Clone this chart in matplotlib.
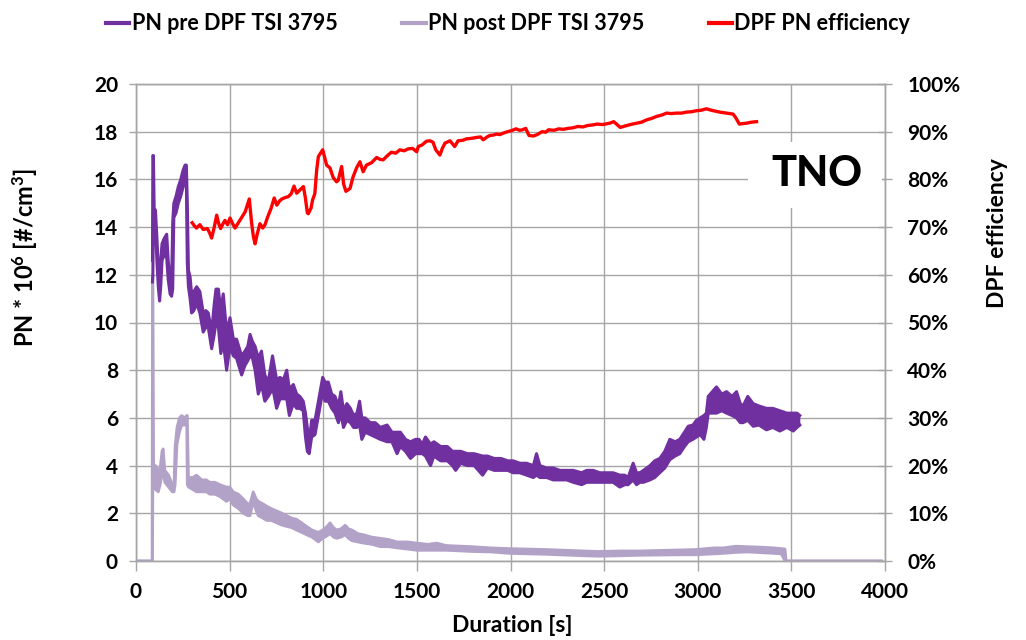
import matplotlib
matplotlib.use('Agg')
import matplotlib.pyplot as plt
from matplotlib.lines import Line2D
from matplotlib.patches import Rectangle
from matplotlib.ticker import FuncFormatter

plt.rcParams['font.family'] = ['Lato', 'DejaVu Sans']
plt.rcParams['font.weight'] = 'bold'
plt.rcParams['mathtext.fontset'] = 'custom'
plt.rcParams['mathtext.rm'] = 'Lato:bold'
plt.rcParams['mathtext.it'] = 'Lato:bold'
plt.rcParams['mathtext.bf'] = 'Lato:bold'

# ---------------- data ----------------
series_names = ["PN pre DPF TSI 3795", "PN post DPF TSI 3795", "DPF PN efficiency"]

# PN pre DPF: time [s], upper and lower edge of the noisy trace [10^6 #/cm3]
pre_t = [88, 90, 93, 97, 104, 112, 119, 126, 132, 139, 149, 156, 164, 172, 182, 190, 196, 202, 214, 226,
         239, 252, 262, 269, 274, 280, 289, 297, 309, 324, 341, 359, 373, 386, 404, 418, 427, 440, 453, 466,
         484, 502, 520, 537, 564, 582, 597, 609, 622, 636, 653, 670, 688, 706, 721, 729, 751, 769, 787, 805,
         819, 840, 858, 875, 893, 905, 915, 925, 938, 956, 974, 990, 997, 1010, 1027, 1045, 1063, 1081, 1094, 1108,
         1126, 1145, 1162, 1180, 1194, 1206, 1224, 1251, 1278, 1305, 1341, 1367, 1394, 1412, 1439, 1466, 1493, 1511, 1529, 1546,
         1573, 1591, 1627, 1663, 1690, 1707, 1734, 1770, 1806, 1851, 1877, 1913, 1949, 1985, 2014, 2050, 2086, 2122, 2139, 2157,
         2193, 2228, 2264, 2300, 2335, 2380, 2407, 2441, 2477, 2513, 2548, 2584, 2610, 2628, 2655, 2673, 2691, 2710, 2745, 2770,
         2797, 2824, 2851, 2879, 2904, 2929, 2949, 2974, 2993, 3013, 3033, 3046, 3056, 3078, 3100, 3128, 3154, 3183, 3207, 3227,
         3242, 3267, 3296, 3327, 3367, 3401, 3438, 3476, 3510, 3530, 3545]
pre_hi = [12.6, 17.0, 17.0, 14.8, 14.7, 13.5, 12.3, 11.4, 12.6, 13.3, 13.5, 13.6, 13.7, 12.6, 11.8, 11.6, 14.2, 15.0, 15.3, 15.7,
          16.0, 16.4, 16.6, 16.6, 15.0, 12.2, 11.9, 11.2, 11.3, 11.5, 11.3, 10.4, 10.5, 10.4, 9.6, 10.8, 11.4, 11.4, 10.5, 11.2,
          9.6, 10.2, 9.3, 9.3, 8.6, 8.8, 9.0, 9.5, 9.2, 9.0, 8.5, 8.8, 7.8, 7.5, 8.2, 8.6, 7.6, 7.7, 7.6, 8.0,
          7.2, 7.4, 7.0, 6.9, 6.7, 6.2, 5.6, 5.0, 5.9, 5.9, 6.7, 7.4, 7.7, 7.5, 7.5, 7.0, 6.9, 6.5, 7.1, 6.3,
          6.6, 6.4, 6.1, 6.2, 6.7, 6.0, 6.0, 5.8, 5.8, 5.6, 5.7, 5.4, 5.4, 5.4, 5.1, 5.0, 5.1, 5.1, 4.9, 5.2,
          4.9, 5.0, 4.8, 4.8, 4.6, 4.6, 4.6, 4.5, 4.5, 4.4, 4.4, 4.3, 4.3, 4.2, 4.2, 4.1, 4.1, 4.0, 4.5, 4.0,
          3.9, 3.9, 3.8, 3.8, 3.8, 3.7, 3.8, 3.8, 3.7, 3.7, 3.7, 3.6, 3.6, 3.5, 4.1, 3.7, 3.7, 3.8, 4.0, 4.2,
          4.3, 4.6, 5.1, 5.0, 5.1, 5.4, 5.65, 5.7, 5.9, 6.0, 6.1, 6.2, 6.9, 7.1, 7.3, 7.0, 7.1, 6.9, 7.1, 6.6,
          6.5, 6.9, 6.6, 6.5, 6.4, 6.4, 6.3, 6.2, 6.2, 6.2, 6.1]
pre_lo = [11.7, 12.0, 14.5, 14.2, 14.0, 12.5, 11.5, 10.9, 11.5, 12.6, 12.8, 12.9, 12.7, 11.8, 11.2, 11.1, 11.4, 14.4, 14.6, 15.0,
          15.3, 15.7, 16.0, 15.8, 12.5, 11.5, 11.0, 10.4, 10.5, 10.8, 10.4, 9.6, 9.8, 9.8, 8.9, 9.5, 10.0, 9.8, 8.7, 9.2,
          8.0, 9.0, 8.6, 8.5, 7.8, 8.2, 8.4, 8.6, 8.5, 8.0, 7.0, 7.4, 6.7, 6.9, 7.1, 7.3, 6.4, 6.8, 6.8, 6.8,
          6.1, 6.6, 6.4, 6.4, 6.3, 5.2, 4.6, 4.5, 5.2, 5.3, 6.1, 6.8, 7.1, 6.7, 6.7, 6.4, 6.2, 5.8, 6.2, 5.6,
          5.9, 5.8, 5.6, 5.6, 5.7, 5.1, 5.4, 5.3, 5.2, 5.1, 5.0, 5.0, 4.5, 4.8, 4.6, 4.3, 4.5, 4.5, 4.5, 4.4,
          4.0, 4.4, 4.2, 4.2, 4.0, 3.8, 4.1, 4.0, 4.0, 3.6, 3.9, 3.8, 3.8, 3.8, 3.7, 3.7, 3.6, 3.5, 3.6, 3.5,
          3.5, 3.4, 3.4, 3.4, 3.3, 3.2, 3.3, 3.3, 3.3, 3.3, 3.3, 3.1, 3.2, 3.2, 3.4, 3.2, 3.3, 3.3, 3.4, 3.5,
          3.7, 3.9, 4.25, 4.4, 4.5, 4.8, 5.0, 5.1, 5.2, 5.3, 5.1, 5.6, 6.2, 6.2, 6.2, 6.3, 6.2, 6.1, 6.0, 5.8,
          5.8, 5.9, 5.65, 5.7, 5.5, 5.6, 5.45, 5.6, 5.45, 5.6, 5.7]

# PN post DPF: time [s], upper and lower edge of the trace [10^6 #/cm3]
post_t = [0, 86, 88, 90, 94, 104, 119, 129, 139, 145, 154, 174, 194, 203, 209, 219, 232, 244, 259, 271,
          274, 280, 303, 323, 352, 376, 394, 422, 448, 483, 501, 519, 547, 573, 597, 609, 626, 642, 653, 677,
          698, 722, 751, 781, 805, 831, 857, 885, 911, 940, 974, 997, 1020, 1036, 1055, 1072, 1095, 1117, 1135, 1153,
          1185, 1215, 1260, 1305, 1350, 1394, 1450, 1500, 1558, 1606, 1656, 1711, 1795, 1894, 1994, 2093, 2193, 2292, 2392, 2471,
          2590, 2690, 2790, 2889, 2989, 3088, 3138, 3202, 3267, 3337, 3407, 3446, 3466, 3472, 3981]
post_hi = [0, 0, 12.0, 12.0, 4.0, 4.0, 3.8, 3.9, 4.6, 4.7, 3.8, 3.6, 3.2, 3.2, 4.8, 5.6, 6.0, 6.1, 6.0, 6.1,
           6.1, 3.5, 3.5, 3.6, 3.4, 3.4, 3.3, 3.3, 3.2, 3.1, 3.1, 2.9, 2.8, 2.6, 2.4, 2.4, 2.9, 2.6, 2.5, 2.4,
           2.3, 2.2, 2.1, 2.0, 1.9, 1.8, 1.75, 1.6, 1.45, 1.3, 1.2, 1.3, 1.45, 1.6, 1.4, 1.3, 1.35, 1.5, 1.35, 1.3,
           1.15, 1.1, 1.0, 0.95, 0.9, 0.8, 0.8, 0.75, 0.7, 0.75, 0.65, 0.63, 0.6, 0.55, 0.52, 0.5, 0.48, 0.45, 0.42, 0.4,
           0.42, 0.42, 0.44, 0.46, 0.48, 0.55, 0.55, 0.62, 0.6, 0.58, 0.55, 0.52, 0.5, 0.0, 0.0]
post_lo = [0, 0, 0, 3.5, 3.2, 3.0, 2.9, 3.2, 3.6, 3.9, 3.3, 3.1, 2.9, 2.9, 3.2, 4.9, 5.4, 5.7, 5.7, 5.7,
           3.2, 3.1, 3.0, 2.9, 2.9, 2.9, 2.8, 2.8, 2.7, 2.5, 2.6, 2.35, 2.2, 2.0, 1.9, 1.9, 2.5, 2.1, 1.9, 1.8,
           1.7, 1.7, 1.6, 1.5, 1.45, 1.4, 1.3, 1.2, 1.1, 1.0, 0.8, 0.95, 1.05, 1.15, 1.0, 0.95, 1.0, 1.1, 0.95, 0.85,
           0.8, 0.75, 0.7, 0.6, 0.6, 0.55, 0.5, 0.45, 0.45, 0.45, 0.45, 0.43, 0.4, 0.38, 0.32, 0.3, 0.28, 0.25, 0.22, 0.2,
           0.22, 0.24, 0.25, 0.26, 0.26, 0.3, 0.32, 0.36, 0.38, 0.35, 0.32, 0.3, 0.0, 0.0, 0.0]

# DPF PN efficiency: time [s], efficiency [%]
eff_t = [300, 313, 323, 341, 359, 381, 393, 404, 418, 431, 441, 452, 463, 475, 489, 502, 515, 529, 548, 565,
         583, 605, 617, 627, 636, 647, 662, 677, 689, 702, 722, 738, 752, 767, 779, 797, 814, 829, 844, 858,
         876, 894, 905, 915, 920, 935, 943, 955, 965, 974, 997, 1008, 1018, 1036, 1053, 1071, 1080, 1098, 1109, 1121,
         1143, 1159, 1179, 1196, 1213, 1231, 1258, 1285, 1303, 1320, 1343, 1364, 1387, 1409, 1432, 1454, 1477, 1499, 1508, 1527,
         1551, 1569, 1586, 1601, 1623, 1636, 1650, 1677, 1702, 1720, 1745, 1765, 1790, 1819, 1840, 1854, 1875, 1889, 1909, 1925,
         1944, 1961, 1984, 2004, 2029, 2049, 2064, 2081, 2099, 2123, 2143, 2168, 2188, 2203, 2233, 2258, 2283, 2307, 2332, 2360,
         2387, 2412, 2436, 2463, 2491, 2506, 2531, 2551, 2566, 2586, 2621, 2651, 2675, 2700, 2728, 2755, 2780, 2808, 2834, 2859,
         2887, 2914, 2939, 2969, 2993, 3018, 3046, 3063, 3083, 3118, 3153, 3188, 3202, 3222, 3242, 3262, 3287, 3314]
eff_pct = [70.9, 70.2, 69.8, 70.5, 69.5, 69.7, 68.8, 67.7, 70.0, 72.5, 70.8, 69.7, 70.6, 71.4, 70.5, 71.9, 70.8, 69.8, 71.0, 72.1,
           73.2, 75.9, 71.0, 68.0, 66.5, 68.5, 70.7, 69.8, 70.5, 72.0, 74.0, 76.1, 74.6, 75.5, 75.9, 76.2, 76.4, 77.0, 78.6, 77.1,
           77.8, 78.5, 76.0, 73.0, 72.8, 74.0, 75.7, 77.0, 82.0, 84.8, 86.2, 84.5, 83.0, 82.4, 80.4, 79.5, 79.8, 82.7, 79.0, 77.5,
           78.1, 80.5, 82.5, 83.7, 81.6, 83.0, 83.5, 84.6, 84.2, 84.1, 85.0, 85.7, 85.5, 86.2, 86.0, 86.4, 86.5, 85.8, 86.9, 87.2,
           88.0, 88.1, 87.8, 86.2, 85.1, 86.5, 87.6, 88.1, 86.9, 88.1, 88.2, 88.5, 88.6, 88.8, 88.9, 88.3, 88.9, 89.2, 89.3, 89.5,
           89.4, 89.7, 90.0, 90.2, 90.6, 90.3, 90.4, 90.7, 89.2, 89.1, 89.4, 90.0, 89.9, 90.4, 90.3, 90.6, 90.5, 90.7, 90.8, 91.1,
           91.0, 91.3, 91.4, 91.6, 91.5, 91.6, 91.8, 92.1, 91.6, 90.9, 91.3, 91.6, 91.8, 92.0, 92.5, 92.8, 93.2, 93.5, 93.9, 93.8,
           93.9, 93.9, 94.1, 94.2, 94.4, 94.5, 94.8, 94.6, 94.4, 94.1, 93.9, 93.7, 93.0, 91.6, 91.7, 91.8, 92.0, 92.1]

x_ticks = [0, 500, 1000, 1500, 2000, 2500, 3000, 3500, 4000]
y_ticks = [0, 2, 4, 6, 8, 10, 12, 14, 16, 18, 20]
y2_ticks = [0, 10, 20, 30, 40, 50, 60, 70, 80, 90, 100]

# ---------------- styling ----------------
c_pre = '#7030A0'
c_post = '#B3A2C7'
c_eff = '#FF0000'
c_grid = '#A6A6A6'
tick_fs = 15
title_fs = 16.5

fig = plt.figure(figsize=(10.26, 6.40), dpi=100)
ax = fig.add_axes([136 / 1026, 1 - 561 / 640, 749 / 1026, 477 / 640])
ax2 = ax.twinx()

# post series
ax.fill_between(post_t, post_lo, post_hi, color=c_post, lw=0, zorder=2)
ax.plot(post_t, post_hi, color=c_post, lw=2.0, solid_joinstyle='round', zorder=2)
ax.plot(post_t, post_lo, color=c_post, lw=2.0, solid_joinstyle='round', zorder=2)
# pre series
ax.fill_between(pre_t, pre_lo, pre_hi, color=c_pre, lw=0, zorder=3)
ax.plot(pre_t, pre_hi, color=c_pre, lw=2.2, solid_joinstyle='round', zorder=3)
ax.plot(pre_t, pre_lo, color=c_pre, lw=2.2, solid_joinstyle='round', zorder=3)
# efficiency on secondary axis
ax2.plot(eff_t, eff_pct, color=c_eff, lw=2.4, solid_joinstyle='round', zorder=3)

ax.set_xlim(0, 4000)
ax.set_ylim(0, 20)
ax2.set_ylim(0, 100)
ax.set_xticks(x_ticks)
ax.set_yticks(y_ticks)
ax2.set_yticks(y2_ticks)
ax2.yaxis.set_major_formatter(FuncFormatter(lambda v, p: f"{v:.0f}%"))

ax.grid(True, color=c_grid, lw=1.0)
ax.set_axisbelow(True)
for a in (ax, ax2):
    for s in a.spines.values():
        s.set_color(c_grid)
        s.set_linewidth(1.0)

ax.tick_params(axis='both', colors=c_grid, labelcolor='black', labelsize=tick_fs, width=1.0)
ax.tick_params(axis='y', direction='out', length=5, pad=8)
ax.tick_params(axis='x', direction='out', length=7, pad=8)
ax2.tick_params(axis='y', colors=c_grid, labelcolor='black', labelsize=tick_fs, direction='inout',
                length=10, width=1.0, pad=11)
for lab in ax.get_xticklabels() + ax.get_yticklabels() + ax2.get_yticklabels():
    lab.set_fontweight('bold')

# axis titles
fig.text(25 / 1026, 1 - 257 / 640, r'PN * 10$^{6}$ [#/cm$^{3}$]', rotation=90,
         ha='center', va='center', fontsize=title_fs + 0.5, fontweight='bold')
fig.text(997 / 1026, 1 - 233 / 640, 'DPF efficiency', rotation=90,
         ha='center', va='center', fontsize=title_fs, fontweight='bold')
fig.text(512 / 1026, 1 - 626 / 640, 'Duration [s]', ha='center', va='center',
         fontsize=title_fs, fontweight='bold')

# TNO logo on a white patch
fig.patches.append(Rectangle((748 / 1026, 1 - 208 / 640), 134 / 1026, 66 / 640,
                             transform=fig.transFigure, facecolor='white', edgecolor='none', zorder=1))
fig.text(817 / 1026, 1 - 174 / 640, 'TNO', ha='center', va='center', fontsize=30,
         fontweight='black', color='black', zorder=2)

# legend
handles = [Line2D([], [], color=c, lw=3) for c in (c_pre, c_post, c_eff)]
leg = fig.legend(handles, series_names, loc='center', bbox_to_anchor=(508 / 1026, 1 - 24 / 640),
                 ncol=3, frameon=False, handlelength=1.1, handletextpad=0.1, columnspacing=3.0,
                 prop={'size': 15.5, 'weight': 'bold'})

fig.savefig('out.png', dpi=100)
